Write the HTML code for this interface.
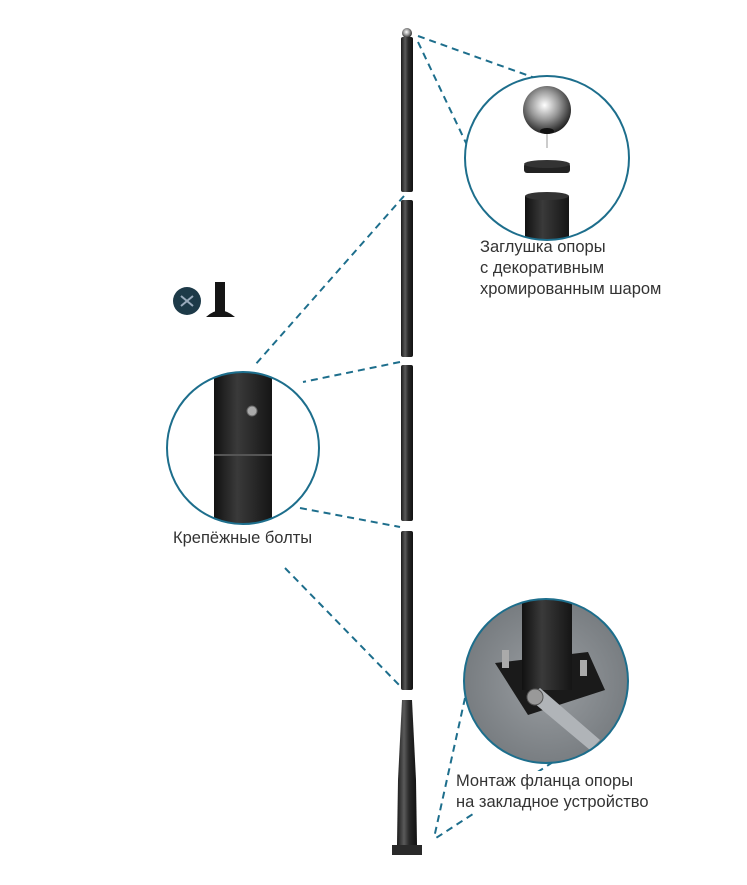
<!DOCTYPE html>
<html><head><meta charset="utf-8"><style>
html,body{margin:0;padding:0;background:#fff;}
svg{display:block}
text{font-family:"Liberation Sans",sans-serif;font-size:16.5px;fill:#333}
</style></head><body>
<svg width="747" height="885" viewBox="0 0 747 885" xmlns="http://www.w3.org/2000/svg">
<defs>
<linearGradient id="pole" x1="0" x2="1" y1="0" y2="0">
<stop offset="0" stop-color="#1a1a1a"/><stop offset="0.35" stop-color="#5a5a5a"/><stop offset="0.6" stop-color="#2a2a2a"/><stop offset="1" stop-color="#111"/>
</linearGradient>
<linearGradient id="big" x1="0" x2="1" y1="0" y2="0">
<stop offset="0" stop-color="#111"/><stop offset="0.4" stop-color="#3a3a3a"/><stop offset="1" stop-color="#151515"/>
</linearGradient>
<radialGradient id="ball" cx="0.45" cy="0.4" r="0.6">
<stop offset="0" stop-color="#fff"/><stop offset="0.5" stop-color="#999"/><stop offset="1" stop-color="#222"/>
</radialGradient>
<radialGradient id="ground" cx="0.5" cy="0.5" r="0.6">
<stop offset="0" stop-color="#9a9ea2"/><stop offset="1" stop-color="#6f7478"/>
</radialGradient>
<clipPath id="c1"><circle cx="547" cy="158" r="82"/></clipPath>
<clipPath id="c2"><circle cx="243" cy="448" r="76"/></clipPath>
<clipPath id="c3"><circle cx="546" cy="681" r="82"/></clipPath>
</defs>

<g stroke="#1d6e8c" stroke-width="2" stroke-dasharray="7,5" fill="none">
<line x1="418" y1="36" x2="535" y2="78"/>
<line x1="418" y1="42" x2="467" y2="145"/>
<line x1="404" y1="196" x2="255" y2="365"/>
<line x1="400" y1="362" x2="303" y2="382"/>
<line x1="300" y1="508" x2="400" y2="527"/>
<line x1="285" y1="568" x2="402" y2="688"/>
<line x1="465" y1="698" x2="434" y2="838"/>
<line x1="553" y1="762" x2="436" y2="838"/>
</g>

<circle cx="407" cy="33" r="5" fill="url(#ball)"/>
<rect x="401" y="37" width="12" height="155" rx="2" fill="url(#pole)"/>
<rect x="401" y="200" width="12" height="157" rx="2" fill="url(#pole)"/>
<rect x="401" y="365" width="12" height="156" rx="2" fill="url(#pole)"/>
<rect x="401" y="531" width="12" height="159" rx="2" fill="url(#pole)"/>
<path d="M402 700 L412 700 L413 720 L416 780 L417 845 L397 845 L398 780 L401 720 Z" fill="url(#pole)"/>
<rect x="392" y="845" width="30" height="10" fill="#2a2a2a"/>

<g clip-path="url(#c1)">
<rect x="460" y="70" width="180" height="180" fill="#fff"/>
<circle cx="547" cy="110" r="24" fill="url(#ball)"/>
<ellipse cx="547" cy="131" rx="7" ry="3" fill="#111"/>
<line x1="547" y1="134" x2="547" y2="148" stroke="#999"/>
<rect x="524" y="163" width="46" height="10" rx="3" fill="#222"/>
<ellipse cx="547" cy="164" rx="23" ry="4" fill="#333"/>
<rect x="525" y="196" width="44" height="60" fill="url(#big)"/>
<ellipse cx="547" cy="196" rx="22" ry="4" fill="#333"/>
</g>
<circle cx="547" cy="158" r="82" fill="none" stroke="#1d6e8c" stroke-width="2"/>

<g clip-path="url(#c2)">
<rect x="160" y="365" width="170" height="170" fill="#fff"/>
<rect x="214" y="365" width="58" height="170" fill="url(#big)"/>
<circle cx="252" cy="411" r="5" fill="#aaa" stroke="#666"/>
<line x1="214" y1="455" x2="272" y2="455" stroke="#555" stroke-width="2"/>
</g>
<circle cx="243" cy="448" r="76" fill="none" stroke="#1d6e8c" stroke-width="2"/>

<g clip-path="url(#c3)">
<rect x="460" y="595" width="175" height="175" fill="url(#ground)"/>
<polygon points="495,663 588,652 605,690 528,715" fill="#1a1a1a"/>
<rect x="522" y="595" width="50" height="95" fill="url(#big)"/>
<rect x="502" y="650" width="7" height="18" fill="#aaa"/>
<rect x="580" y="660" width="7" height="16" fill="#aaa"/>
<polygon points="528,698 540,688 600,740 590,750" fill="#b0b4b8"/>
<circle cx="535" cy="697" r="8" fill="#999" stroke="#555"/>
</g>
<circle cx="546" cy="681" r="82" fill="none" stroke="#1d6e8c" stroke-width="2"/>

<circle cx="187" cy="301" r="14" fill="#1d3a48"/>
<path d="M181 296 l12 10 M193 296 l-12 10" stroke="#9ab" stroke-width="2"/>
<rect x="215" y="282" width="10" height="30" fill="#151515"/>
<path d="M206 317 Q220 304 235 317 Z" fill="#151515"/>

<text x="480" y="252">Заглушка опоры</text>
<text x="480" y="273">с декоративным</text>
<text x="480" y="294">хромированным шаром</text>
<text x="173" y="543">Крепёжные болты</text>
<rect x="452" y="771" width="200" height="42" fill="#fff"/>
<text x="456" y="786">Монтаж фланца опоры</text>
<text x="456" y="807">на закладное устройство</text>
</svg>
</body></html>
